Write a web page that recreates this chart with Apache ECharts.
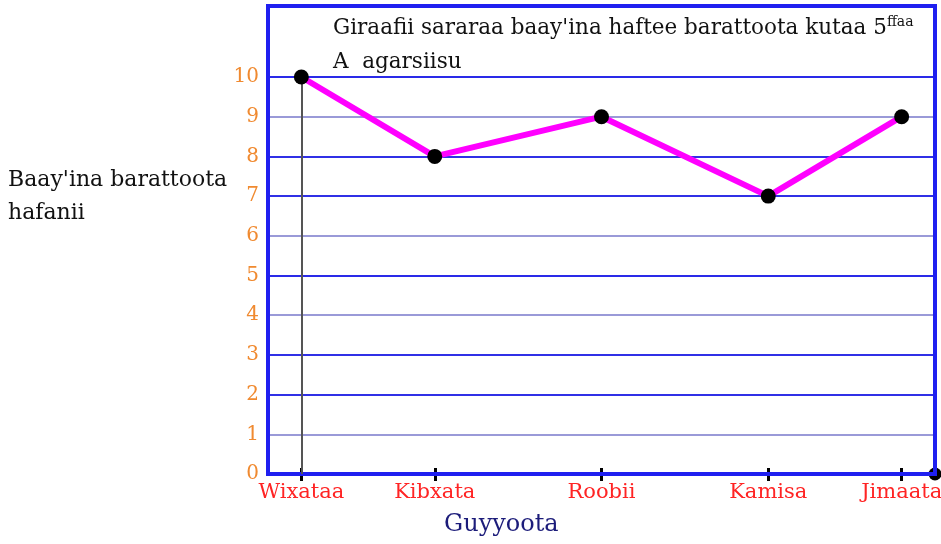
<!DOCTYPE html>
<html>
<head>
<meta charset="utf-8">
<script src="https://cdn.jsdelivr.net/npm/echarts@6/dist/echarts.min.js"></script>
<style>
  html, body { margin: 0; padding: 0; background: #ffffff; }
  #chart { width: 941px; height: 544px; }
</style>
</head>
<body>
<div id="chart"></div>
<script>
// Days of the school week and the number of absent pupils on each day
const days = ['Wixataa', 'Kibxata', 'Roobii', 'Kamisa', 'Jimaata'];
const absent = [10, 8, 9, 7, 9];
// Horizontal position of each day along the bottom axis (axis runs 0..10)
const dayPos = [0.5, 2.5, 5, 7.5, 9.5];
// Vertical tick values
const yTicks = [0, 1, 2, 3, 4, 5, 6, 7, 8, 9, 10];

const SERIF = '"DejaVu Serif", "Liberation Serif", serif';
const BLUE = '#1f1ff0';

const chart = echarts.init(document.getElementById('chart'), null, { renderer: 'canvas' });

const linePoints = dayPos.map((x, i) => [x, absent[i]]);

chart.setOption({
  animation: false,
  backgroundColor: '#ffffff',
  title: [
    {
      text: "{m|Giraafii sararaa baay'ina haftee barattoota kutaa 5}{s|ffaa}\n{m|A  agarsiisu}",
      left: 333,
      top: 11,
      padding: 0,
      textStyle: {
        fontWeight: 'normal',
        rich: {
          m: { fontFamily: SERIF, fontSize: 21.5, fontWeight: 'normal', lineHeight: 34, color: '#111111' },
          s: { fontFamily: SERIF, fontSize: 14, fontWeight: 'normal', lineHeight: 34, color: '#111111', padding: [0, 0, 12, 0] }
        }
      }
    },
    {
      text: "Baay'ina barattoota\nhafanii",
      left: 8,
      top: 164,
      padding: 0,
      textStyle: { fontFamily: SERIF, fontSize: 22, lineHeight: 33, fontWeight: 'normal', color: '#111111' }
    },
    {
      text: 'Guyyoota',
      left: 444,
      top: 511,
      padding: 0,
      textStyle: { fontFamily: SERIF, fontSize: 24, lineHeight: 28, fontWeight: 'normal', color: '#1c1c7a' }
    }
  ],
  grid: [
    { left: 268, right: 6, top: 77, bottom: 70, containLabel: false, outerBoundsMode: 'none' },
    // outer frame around the plotting area
    { left: 268, right: 6, top: 6, bottom: 70, show: true, borderColor: BLUE, borderWidth: 4, backgroundColor: 'transparent', z: 3, outerBoundsMode: 'none' }
  ],
  xAxis: [
    {
      type: 'value',
      gridIndex: 0,
      position: 'bottom',
      min: 0,
      max: 10,
      splitLine: { show: false },
      axisLine: { show: true, lineStyle: { color: BLUE, width: 4 } },
      axisTick: { show: true, customValues: dayPos, length: 7, lineStyle: { color: '#000000', width: 3 } },
      axisLabel: {
        show: true,
        customValues: dayPos,
        margin: 8,
        fontFamily: SERIF,
        fontSize: 21,
        color: '#ff2424',
        formatter: (v) => days[dayPos.indexOf(v)] || ''
      }
    },
    {
      // inner half of the day ticks and the end marker of the axis
      type: 'value',
      gridIndex: 0,
      position: 'bottom',
      min: 0,
      max: 10,
      splitLine: { show: false },
      axisLine: { show: true, symbol: ['none', 'circle'], symbolSize: [13, 13], lineStyle: { color: '#000000', width: 0 } },
      axisTick: { show: true, inside: true, customValues: dayPos, length: 6, lineStyle: { color: '#000000', width: 3 } },
      axisLabel: { show: false }
    }
  ],
  yAxis: [
    {
      type: 'value',
      gridIndex: 0,
      min: yTicks[0],
      max: yTicks[yTicks.length - 1],
      interval: 1,
      axisLine: { show: true, lineStyle: { color: BLUE, width: 4 } },
      axisTick: { show: false },
      axisLabel: {
        margin: 9,
        fontFamily: SERIF,
        fontSize: 20,
        color: '#f08a30'
      },
      splitLine: {
        show: true,
        lineStyle: {
          width: 2,
          color: ['#3030e6', '#9a9ad8', '#3030e6', '#3030e6', '#9a9ad8', '#2a2ae8',
                  '#9a9ad8', '#3030e6', '#3030e6', '#9a9ad8', '#2a2ae8']
        }
      }
    }
  ],
  series: [
    {
      type: 'line',
      xAxisIndex: 0,
      yAxisIndex: 0,
      data: linePoints,
      symbol: 'circle',
      symbolSize: 15,
      lineStyle: { color: '#ff00ff', width: 6 },
      itemStyle: { color: '#000000' },
      z: 5,
      markLine: {
        silent: true,
        symbol: ['none', 'none'],
        label: { show: false },
        lineStyle: { color: '#555555', width: 2, type: 'solid' },
        data: [
          [{ coord: [dayPos[0], 0] }, { coord: [dayPos[0], absent[0]] }]
        ]
      }
    }
  ]
});
</script>
</body>
</html>
